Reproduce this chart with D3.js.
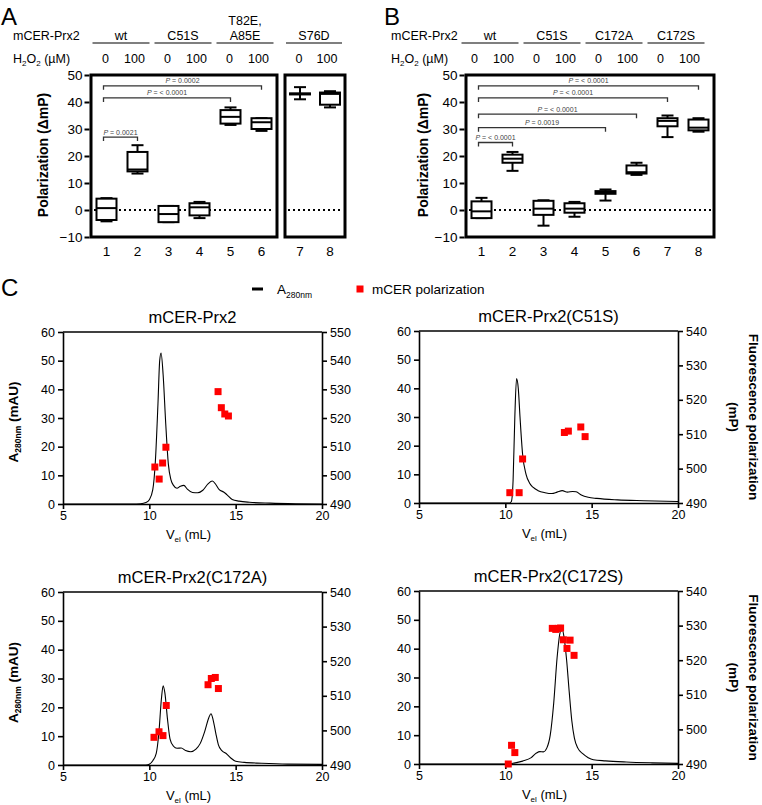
<!DOCTYPE html>
<html><head><meta charset="utf-8">
<script src="https://cdn.jsdelivr.net/npm/d3@7"></script>
<style>body{margin:0;background:#fff}</style>
</head><body>
<script>
const FONT = "'Liberation Sans', Arial, Helvetica, sans-serif";

// ---------- Panel A data ----------
const aGroupLabels = [["wt"], ["C51S"], ["T82E,", "A85E"], ["S76D"]];
const h2o2Labels = ["0", "100"];
const aCats = ["1", "2", "3", "4", "5", "6", "7", "8"];
const aLow  = [-4.2, 13.5, -4.5, -3.0, 31.5, 29.3, 41.0, 38.0];
const aQ1   = [-3.7, 14.3, -4.5, -2.0, 32.0, 30.0, 42.8, 39.0];
const aMed  = [ 0.7, 15.0, -1.5,  1.0, 34.5, 32.5, 43.0, 43.0];
const aQ3   = [ 4.2, 21.5,  1.5,  2.5, 37.0, 34.0, 43.2, 43.5];
const aHigh = [ 4.4, 24.0,  1.5,  3.0, 38.0, 34.0, 45.5, 44.0];
const aBrFrom = [0, 0, 0];
const aBrTo   = [5, 4, 1];
const aBrY    = [46, 41.5, 27];
const aBrP    = ["0.0002", "< 0.0001", "0.0021"];

// ---------- Panel B data ----------
const bGroupLabels = [["wt"], ["C51S"], ["C172A"], ["C172S"]];
const bCats = ["1", "2", "3", "4", "5", "6", "7", "8"];
const bLow  = [-3.0, 14.5, -5.8, -2.5, 3.5, 13.0, 27.0, 29.0];
const bQ1   = [-3.0, 17.5, -1.8, -1.0, 6.0, 13.5, 31.0, 29.5];
const bMed  = [-0.5, 19.0,  0.5,  0.5, 6.5, 14.0, 33.0, 30.5];
const bQ3   = [ 3.2, 20.5,  3.4,  2.5, 7.0, 16.5, 34.0, 33.5];
const bHigh = [ 4.5, 21.5,  3.6,  3.0, 7.6, 17.5, 35.0, 34.0];
const bBrFrom = [0, 0, 0, 0, 0];
const bBrTo   = [7, 6, 5, 4, 1];
const bBrY    = [46, 41.5, 35.5, 30.5, 25];
const bBrP    = ["< 0.0001", "< 0.0001", "< 0.0001", "0.0019", "< 0.0001"];

const polTicks = [-10, 0, 10, 20, 30, 40, 50];

// ---------- Panel C data ----------
const c1Title = "mCER-Prx2";
const c1Vol = [5, 9.0, 9.5, 9.8, 10.0, 10.2, 10.35, 10.5, 10.6, 10.68, 10.8, 10.95, 11.1, 11.25, 11.4, 11.6, 11.8, 12.0, 12.2, 12.5, 12.8, 13.1, 13.4, 13.65, 13.85, 14.05, 14.3, 14.5, 14.8, 15.2, 15.8, 17.0, 18.5, 20];
const c1Abs = [0, 0, 0.1, 0.5, 1.5, 5, 15, 35, 50, 52.7, 45, 28, 14, 8.5, 6.5, 5.5, 6.2, 6.5, 5.2, 4.0, 3.9, 4.8, 7.0, 8.0, 6.8, 5.0, 4.2, 3.2, 1.6, 1.0, 0.6, 0.3, 0.1, 0];
const c1PolVol = [10.32, 10.57, 10.77, 10.96, 13.98, 14.17, 14.37, 14.58];
const c1Pol    = [502.9, 498.7, 504.3, 509.8, 529.2, 523.6, 521.4, 520.7];
const c1PolTicks = [490, 500, 510, 520, 530, 540, 550];

const c2Title = "mCER-Prx2(C51S)";
const c2Vol = [5, 10.25, 10.35, 10.45, 10.55, 10.65, 10.75, 10.85, 11.0, 11.2, 11.4, 11.6, 11.9, 12.3, 12.7, 13.0, 13.3, 13.6, 13.9, 14.1, 14.4, 14.8, 15.3, 16.5, 18.0, 20];
const c2Abs = [0, 0, 0.5, 8, 30, 43.4, 40, 30, 17, 10, 7, 5.5, 4.3, 3.6, 3.3, 3.8, 4.3, 3.8, 4.0, 3.9, 2.8, 2.0, 1.6, 1.1, 0.8, 0.5];
const c2PolVol = [10.26, 10.8, 11.0, 13.42, 13.65, 14.37, 14.62];
const c2Pol    = [493.0, 493.0, 502.8, 510.5, 510.9, 512.1, 509.3];
const c2PolTicks = [490, 500, 510, 520, 530, 540];

const c3Title = "mCER-Prx2(C172A)";
const c3Vol = [5, 9.8, 10.0, 10.2, 10.4, 10.55, 10.7, 10.8, 10.9, 11.05, 11.2, 11.4, 11.6, 11.85, 12.1, 12.4, 12.7, 12.95, 13.2, 13.45, 13.57, 13.7, 13.85, 14.0, 14.2, 14.45, 14.7, 15.0, 15.5, 16.5, 18.0, 20];
const c3Abs = [0, 0, 0.3, 1.5, 4, 11, 23, 27.5, 25, 16, 9, 6.5, 5.8, 5.9, 5.0, 4.6, 5.5, 7.5, 11.5, 16.5, 17.8, 15.5, 11, 7, 5, 4, 2.5, 1.3, 0.9, 0.6, 0.3, 0.2];
const c3PolVol = [10.27, 10.56, 10.79, 10.98, 13.4, 13.59, 13.82, 14.0];
const c3Pol    = [498.0, 499.6, 498.5, 507.2, 513.2, 515.0, 515.3, 512.1];
const c3PolTicks = [490, 500, 510, 520, 530, 540];

const c4Title = "mCER-Prx2(C172S)";
const c4Vol = [5, 10.1, 10.5, 11.0, 11.5, 11.8, 12.0, 12.2, 12.4, 12.6, 12.8, 13.0, 13.15, 13.28, 13.4, 13.55, 13.7, 13.85, 14.0, 14.2, 14.5, 14.8, 15.1, 15.8, 17.0, 18.5, 20];
const c4Abs = [0, 0, 0.3, 1, 2.2, 3.8, 4.3, 4.2, 5.5, 10, 21, 37, 45, 47, 44, 36, 25, 15, 9, 5.5, 3.5, 2.2, 1.5, 1.1, 0.7, 0.4, 0.2];
const c4PolVol = [10.17, 10.36, 10.55, 12.72, 12.92, 13.07, 13.2, 13.36, 13.57, 13.75, 13.98];
const c4Pol    = [490.0, 495.4, 493.3, 529.2, 528.9, 529.2, 529.3, 525.9, 523.4, 525.8, 521.4];
const c4PolTicks = [490, 500, 510, 520, 530, 540];

const absTicks = [0, 10, 20, 30, 40, 50, 60];
const volTicks = [5, 10, 15, 20];

// ================= drawing =================
const svg = d3.select("body").append("svg")
  .attr("width", 762).attr("height", 805)
  .style("font-family", FONT);
svg.append("rect").attr("width", 762).attr("height", 805).attr("fill", "#fff");

function panelLetter(t, x, y) {
  svg.append("text").attr("x", x).attr("y", y).text(t)
    .attr("font-size", 24).attr("fill", "#000");
}
panelLetter("A", 1, 25);
panelLetter("B", 384, 25);
panelLetter("C", 1, 296);

function h2o2Label(x, y) {
  const t = svg.append("text").attr("x", x).attr("y", y).attr("font-size", 12.5);
  t.append("tspan").text("H");
  t.append("tspan").text("2").attr("font-size", 8).attr("dy", 3);
  t.append("tspan").text("O").attr("dy", -3);
  t.append("tspan").text("2").attr("font-size", 8).attr("dy", 3);
  t.append("tspan").text(" (\u00b5M)").attr("dy", -3);
}

function boxPanel(opt) {
  const g = svg.append("g");
  const y = opt.y;
  const allCenters = {};
  opt.frames.forEach(fr => {
    const x = d3.scaleBand().domain(fr.cats).range([fr.x0, fr.x1]);
    fr.cats.forEach(c => allCenters[c] = x(c) + x.bandwidth() / 2);
    g.append("line").attr("x1", fr.x0 + 3).attr("x2", fr.x1 - 3)
      .attr("y1", y(0)).attr("y2", y(0))
      .attr("stroke", "#000").attr("stroke-width", 1.8).attr("stroke-dasharray", "2,3");
    const ax = g.append("g").attr("transform", `translate(0,${y.range()[0]})`)
      .call(d3.axisBottom(x).tickSize(0).tickPadding(9));
    ax.select(".domain").remove();
    ax.selectAll("text").attr("font-size", 13.5).attr("font-family", FONT).attr("fill", "#000");
    g.append("rect").attr("x", fr.x0).attr("y", y.range()[1])
      .attr("width", fr.x1 - fr.x0).attr("height", y.range()[0] - y.range()[1])
      .attr("fill", "none").attr("stroke", "#000").attr("stroke-width", 3);
  });
  const ay = g.append("g").attr("transform", `translate(${opt.frames[0].x0 - 1.5},0)`)
    .call(d3.axisLeft(y).tickValues(polTicks).tickSize(5).tickPadding(2));
  ay.select(".domain").remove();
  ay.selectAll("line").attr("stroke-width", 2);
  ay.selectAll("text").attr("font-size", 13.5).attr("font-family", FONT).attr("fill", "#000");
  const cy = (y.range()[0] + y.range()[1]) / 2;
  g.append("text").attr("transform", `translate(${opt.ylabX},${cy - 1}) rotate(-90)`)
    .attr("text-anchor", "middle").attr("font-size", 14).attr("font-weight", "bold")
    .text("Polarization (\u0394mP)");
  const bw = 20, cw = 12;
  opt.cats.forEach((c, i) => {
    const cx = allCenters[c];
    const bx = g.append("g").attr("stroke", "#000").attr("stroke-width", 2).attr("fill", "none");
    bx.append("line").attr("x1", cx).attr("x2", cx).attr("y1", y(opt.q3[i])).attr("y2", y(opt.high[i]));
    bx.append("line").attr("x1", cx).attr("x2", cx).attr("y1", y(opt.q1[i])).attr("y2", y(opt.low[i]));
    bx.append("line").attr("x1", cx - cw / 2).attr("x2", cx + cw / 2).attr("y1", y(opt.high[i])).attr("y2", y(opt.high[i]));
    bx.append("line").attr("x1", cx - cw / 2).attr("x2", cx + cw / 2).attr("y1", y(opt.low[i])).attr("y2", y(opt.low[i]));
    bx.append("rect").attr("x", cx - bw / 2).attr("width", bw)
      .attr("y", y(opt.q3[i])).attr("height", Math.max(0.01, y(opt.q1[i]) - y(opt.q3[i])))
      .attr("fill", "#fff");
    bx.append("line").attr("x1", cx - bw / 2).attr("x2", cx + bw / 2).attr("y1", y(opt.med[i])).attr("y2", y(opt.med[i]));
  });
  opt.brFrom.forEach((f, i) => {
    const x1 = allCenters[opt.cats[f]] - 3, x2 = allCenters[opt.cats[opt.brTo[i]]];
    const yy = y(opt.brY[i]);
    g.append("path").attr("d", `M${x1},${yy + 4}V${yy}H${x2}V${yy + 4}`)
      .attr("fill", "none").attr("stroke", "#333").attr("stroke-width", 1.3);
    const t = g.append("text").attr("x", (x1 + x2) / 2).attr("y", yy - 2.5)
      .attr("text-anchor", "middle").attr("font-size", 7).attr("fill", "#444");
    t.append("tspan").text("P").attr("font-style", "italic");
    t.append("tspan").text(" = " + opt.brP[i]);
  });
  svg.append("text").attr("x", opt.headX).attr("y", 40).attr("font-size", 12.5).text("mCER-Prx2");
  h2o2Label(opt.headX, 63);
  opt.groups.forEach((lab, gi) => {
    const ca = allCenters[opt.cats[2 * gi]], cb = allCenters[opt.cats[2 * gi + 1]];
    const lx1 = ca - 14 + opt.headOff, lx2 = cb + 12 + opt.headOff;
    svg.append("line").attr("x1", lx1).attr("x2", lx2).attr("y1", 43).attr("y2", 43)
      .attr("stroke", "#000").attr("stroke-width", 1.2);
    lab.forEach((l, li) => {
      svg.append("text").attr("x", (lx1 + lx2) / 2).attr("y", 40 - (lab.length - 1 - li) * 15)
        .attr("text-anchor", "middle").attr("font-size", 12.5).text(l);
    });
    [ca, cb].forEach((c, k) => {
      svg.append("text").attr("x", c + opt.headOff - (k === 1 ? 3 : 1)).attr("y", 63)
        .attr("text-anchor", "middle").attr("font-size", 12.5).text(h2o2Labels[k]);
    });
  });
}

const yPol = d3.scaleLinear().domain([-10, 50]).range([237, 75]);

boxPanel({
  y: yPol, cats: aCats,
  frames: [{ cats: aCats.slice(0, 6), x0: 91, x1: 277 }, { cats: aCats.slice(6), x0: 285, x1: 345 }],
  low: aLow, q1: aQ1, med: aMed, q3: aQ3, high: aHigh,
  brFrom: aBrFrom, brTo: aBrTo, brY: aBrY, brP: aBrP,
  groups: aGroupLabels, headX: 13, headOff: 0, ylabX: 48
});
boxPanel({
  y: yPol, cats: bCats,
  frames: [{ cats: bCats, x0: 466, x1: 714 }],
  low: bLow, q1: bQ1, med: bMed, q3: bQ3, high: bHigh,
  brFrom: bBrFrom, brTo: bBrTo, brY: bBrY, brP: bBrP,
  groups: bGroupLabels, headX: 391, headOff: -6, ylabX: 428
});

// ---------- legend C ----------
svg.append("line").attr("x1", 252).attr("x2", 263).attr("y1", 289).attr("y2", 289)
  .attr("stroke", "#000").attr("stroke-width", 3);
{
  const t = svg.append("text").attr("x", 277).attr("y", 294).attr("font-size", 13.5);
  t.append("tspan").text("A");
  t.append("tspan").text("280nm").attr("font-size", 8.5).attr("dy", 4);
}
svg.append("rect").attr("x", 356.5).attr("y", 285.5).attr("width", 7).attr("height", 7).attr("fill", "#ff0000");
svg.append("text").attr("x", 372).attr("y", 294).attr("font-size", 13.5).text("mCER polarization");

// ---------- subplots ----------
function subplot(o) {
  const g = svg.append("g");
  const x = d3.scaleLinear().domain([5, 20]).range([o.x0, o.x1]);
  const yL = d3.scaleLinear().domain([0, 60]).range([o.y1, o.y0]);
  const yR = d3.scaleLinear().domain([490, o.rTicks[o.rTicks.length - 1]]).range([o.y1, o.y0]);
  const style = (a) => {
    a.selectAll("path,line").attr("stroke", "#000").attr("stroke-width", 1.6);
    a.selectAll("text").attr("font-size", 12.5).attr("font-family", FONT).attr("fill", "#000");
  };
  // top border
  g.append("line").attr("x1", o.x0).attr("x2", o.x1).attr("y1", o.y0).attr("y2", o.y0)
    .attr("stroke", "#000").attr("stroke-width", 1.6);
  style(g.append("g").attr("transform", `translate(${o.x0},0)`)
    .call(d3.axisLeft(yL).tickValues(absTicks).tickSize(5).tickSizeOuter(0).tickPadding(3)));
  style(g.append("g").attr("transform", `translate(${o.x1},0)`)
    .call(d3.axisRight(yR).tickValues(o.rTicks).tickSize(5).tickSizeOuter(0).tickPadding(3)));
  style(g.append("g").attr("transform", `translate(0,${o.y1})`)
    .call(d3.axisBottom(x).tickValues(volTicks).tickSize(5).tickSizeOuter(0).tickPadding(2)));
  const pts = o.vol.map((v, i) => [v, o.abs[i]]);
  g.append("path").datum(pts)
    .attr("d", d3.line().x(d => x(d[0])).y(d => yL(d[1])).curve(d3.curveMonotoneX))
    .attr("fill", "none").attr("stroke", "#000").attr("stroke-width", 1.1);
  g.selectAll(null).data(o.pVol.map((v, i) => [v, o.pol[i]])).join("rect")
    .attr("x", d => x(d[0]) - 3.5).attr("y", d => yR(d[1]) - 3.5)
    .attr("width", 7).attr("height", 7).attr("fill", "#ff0000");
  g.append("text").attr("x", (o.x0 + o.x1) / 2).attr("y", o.y0 - 9)
    .attr("text-anchor", "middle").attr("font-size", 16.5).text(o.title);
  const cx = (o.x0 + o.x1) / 2;
  const xl = g.append("text").attr("x", cx - 4).attr("y", o.y1 + 35)
    .attr("text-anchor", "middle").attr("font-size", 13);
  xl.append("tspan").text("V");
  xl.append("tspan").text("el").attr("font-size", 8).attr("dy", 3);
  xl.append("tspan").text(" (mL)").attr("dy", -3);
  const cy = (o.y0 + o.y1) / 2;
  if (o.leftLabel) {
    const t = g.append("text").attr("transform", `translate(18,${cy + 4}) rotate(-90)`)
      .attr("text-anchor", "middle").attr("font-size", 13.5).attr("font-weight", "bold");
    t.append("tspan").text("A");
    t.append("tspan").text("280nm").attr("font-size", 8.5).attr("dy", 3);
    t.append("tspan").text(" (mAU)").attr("dy", -3);
  }
  if (o.rightLabel) {
    g.append("text").attr("transform", `translate(749,${cy}) rotate(90)`)
      .attr("text-anchor", "middle").attr("font-size", 13.5).attr("font-weight", "bold")
      .text("Fluorescence polarization");
    g.append("text").attr("transform", `translate(729,${cy}) rotate(90)`)
      .attr("text-anchor", "middle").attr("font-size", 13.5).attr("font-weight", "bold")
      .text("(mP)");
  }
}

subplot({ x0: 63, x1: 322, y0: 332, y1: 504, title: c1Title, vol: c1Vol, abs: c1Abs, pVol: c1PolVol, pol: c1Pol, rTicks: c1PolTicks, leftLabel: true });
subplot({ x0: 419, x1: 678, y0: 331, y1: 503, title: c2Title, vol: c2Vol, abs: c2Abs, pVol: c2PolVol, pol: c2Pol, rTicks: c2PolTicks, rightLabel: true });
subplot({ x0: 63, x1: 322, y0: 592, y1: 765, title: c3Title, vol: c3Vol, abs: c3Abs, pVol: c3PolVol, pol: c3Pol, rTicks: c3PolTicks, leftLabel: true });
subplot({ x0: 419, x1: 678, y0: 591, y1: 764, title: c4Title, vol: c4Vol, abs: c4Abs, pVol: c4PolVol, pol: c4Pol, rTicks: c4PolTicks, rightLabel: true });
</script>
</body></html>
